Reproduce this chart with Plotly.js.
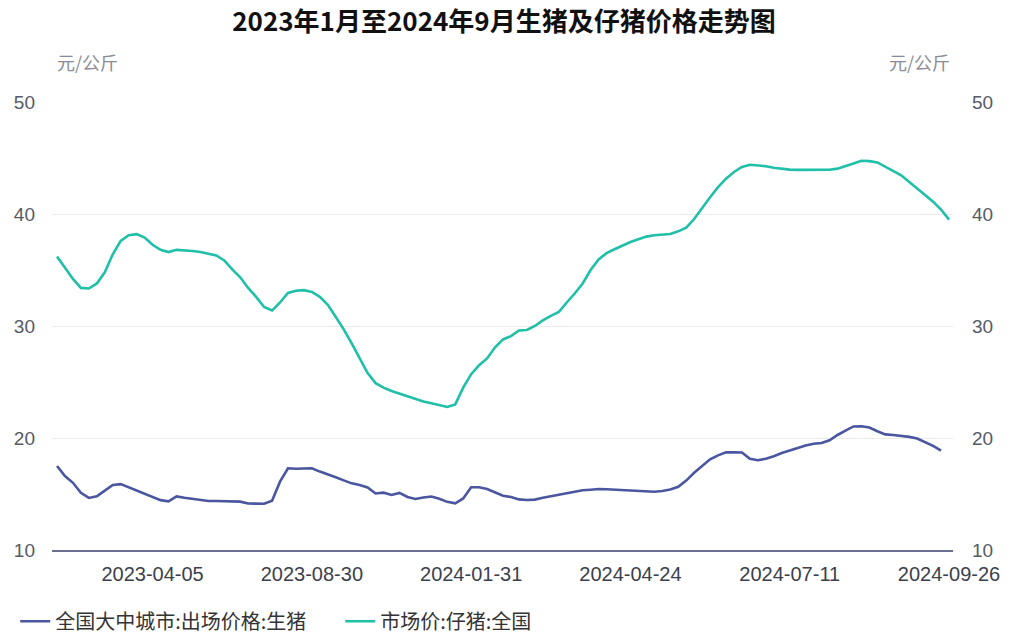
<!DOCTYPE html>
<html>
<head>
<meta charset="utf-8">
<script src="https://cdn.plot.ly/plotly-3.0.1.min.js"></script>
<style>html,body{margin:0;padding:0;background:#fff;}#chart{width:1014px;height:634px;}</style>
</head>
<body>
<div id="chart"></div>
<script>
const dates = [
 '2023-01-11','2023-01-18','2023-01-25','2023-02-01','2023-02-08','2023-02-15','2023-02-22','2023-03-01','2023-03-08','2023-03-15','2023-03-22','2023-03-29',
 '2023-04-05',
 '2023-04-12','2023-04-19','2023-04-26','2023-05-03','2023-05-10','2023-05-17','2023-05-24','2023-05-31','2023-06-07','2023-06-14','2023-06-21','2023-06-28','2023-07-05','2023-07-12','2023-07-19','2023-07-26','2023-08-02','2023-08-09','2023-08-16',
 '2023-08-30',
 '2023-09-06','2023-09-13','2023-09-20','2023-09-27','2023-10-11','2023-10-18','2023-10-25','2023-11-01','2023-11-08','2023-11-15','2023-11-22','2023-11-29','2023-12-06','2023-12-13','2023-12-20','2023-12-27','2024-01-03','2024-01-10','2024-01-17',
 '2024-01-31',
 '2024-02-04','2024-02-08','2024-02-12','2024-02-16','2024-02-20','2024-02-24','2024-02-28','2024-03-03','2024-03-07','2024-03-11','2024-03-15','2024-03-19','2024-03-23','2024-03-27','2024-03-31','2024-04-04','2024-04-08','2024-04-12','2024-04-18',
 '2024-04-24',
 '2024-04-28','2024-05-02','2024-05-06','2024-05-10','2024-05-14','2024-05-18','2024-05-22','2024-05-26','2024-05-30','2024-06-03','2024-06-07','2024-06-11','2024-06-15','2024-06-19','2024-06-23','2024-06-27','2024-07-01','2024-07-04','2024-07-07',
 '2024-07-11',
 '2024-07-15','2024-07-19','2024-07-23','2024-07-27','2024-07-31','2024-08-04','2024-08-08','2024-08-12','2024-08-16','2024-08-20','2024-08-24','2024-08-28','2024-09-01','2024-09-05','2024-09-09','2024-09-13','2024-09-17','2024-09-20','2024-09-23',
 '2024-09-26'
];

// 全国大中城市:出场价格:生猪 (元/公斤)
const hogPrice = [
 17.5,16.6,16.0,15.1,14.65,14.8,15.3,15.8,15.88,15.58,
 15.35,15.05,14.75,14.45,14.35,14.78,14.66,14.56,14.42,14.38,
 14.38,14.34,14.32,14.32,14.15,14.13,14.13,14.4,16.1,17.3,
 17.25,17.28,17.3,17.0,16.78,16.5,16.22,15.95,15.8,15.58,
 15.05,15.12,14.92,15.1,14.74,14.55,14.68,14.77,14.58,14.3,
 14.17,14.6,15.6,15.6,15.45,15.13,14.85,14.73,14.52,14.46,
 14.5,14.66,14.78,14.92,15.06,15.2,15.33,15.38,15.44,15.42,
 15.38,15.34,15.32,15.29,15.25,15.2,15.27,15.4,15.65,16.2,
 16.9,17.5,18.1,18.45,18.72,18.72,18.7,18.15,18.02,18.15,
 18.37,18.66,18.9,19.15,19.33,19.48,19.55,19.8,20.27,20.65,
 21.03,21.05,20.94,20.6,20.32,20.27,20.2,20.1,19.95,19.65,
 19.3,18.88,null
];

// 市场价:仔猪:全国 (元/公斤)
const pigletPrice = [
 36.2,35.15,34.2,33.4,33.35,33.8,34.8,36.4,37.6,38.1,
 38.2,37.9,37.25,36.8,36.6,36.8,36.77,36.7,36.6,36.45,
 36.3,35.85,35.05,34.35,33.4,32.6,31.7,31.38,32.1,32.95,
 33.15,33.2,33.04,32.6,31.9,30.8,29.7,28.45,27.1,25.8,
 24.9,24.5,24.2,23.95,23.68,23.45,23.25,23.1,22.93,22.77,
 23.0,24.5,25.7,26.5,27.1,28.1,28.8,29.1,29.6,29.64,
 30.0,30.5,30.9,31.25,32.1,32.9,33.8,35.0,35.95,36.5,
 36.85,37.2,37.5,37.75,37.98,38.1,38.17,38.22,38.45,38.78,
 39.55,40.55,41.5,42.4,43.15,43.75,44.2,44.4,44.36,44.27,
 44.13,44.03,43.96,43.94,43.93,43.93,43.94,43.95,44.05,44.26,
 44.5,44.75,44.72,44.6,44.2,43.8,43.45,42.85,42.3,41.7,
 41.1,40.4,39.5
];

const tickDates = ['2023-04-05','2023-08-30','2024-01-31','2024-04-24','2024-07-11','2024-09-26'];
const yTicks = [10,20,30,40,50];
const seriesNames = ['全国大中城市:出场价格:生猪','市场价:仔猪:全国'];
const titleText = '2023年1月至2024年9月生猪及仔猪价格走势图';
const unitText = '元/公斤';

const FONT = '"Liberation Sans", "Noto Sans CJK SC", sans-serif';
const CJK = '"Noto Sans CJK SC", sans-serif';

const traces = [
 {x: dates, y: hogPrice, name: seriesNames[0], type: 'scatter', mode: 'lines',
  line: {color: '#4a56a0', width: 2.6}, yaxis: 'y', connectgaps: false},
 {x: dates, y: pigletPrice, name: seriesNames[1], type: 'scatter', mode: 'lines',
  line: {color: '#1fbfa8', width: 2.6}, yaxis: 'y2'}
];

const layout = {
 width: 1014, height: 634,
 paper_bgcolor: '#ffffff', plot_bgcolor: '#ffffff',
 margin: {l: 52, r: 61, t: 102, b: 84},
 font: {family: FONT, color: '#333'},
 title: {text: '<b>' + titleText + '</b>', x: 0.497, xref: 'container', xanchor: 'center',
  y: 0.965, yref: 'container', yanchor: 'middle',
  font: {family: CJK, size: 26, color: '#111'}},
 xaxis: {type: 'category', range: [-0.63, 112.5], tickvals: tickDates, ticktext: tickDates,
  showgrid: false, zeroline: false, showline: true, linecolor: '#6c7090', linewidth: 2,
  ticks: '', ticklabelstandoff: 5, tickfont: {family: FONT, size: 20, color: '#3c3f4c'}},
 yaxis: {range: [10, 50], tickvals: yTicks, showgrid: true, gridcolor: '#ececec', gridwidth: 1,
  zeroline: false, showline: false, ticks: '', ticklabelstandoff: 16,
  tickfont: {family: FONT, size: 19, color: '#555a66'}},
 yaxis2: {range: [10, 50], tickvals: yTicks, overlaying: 'y', side: 'right', showgrid: false,
  zeroline: false, showline: false, ticks: '', ticklabelstandoff: 18,
  tickfont: {family: FONT, size: 19, color: '#555a66'}},
 showlegend: true,
 legend: {orientation: 'h', xref: 'container', x: 0.015, xanchor: 'left',
  yref: 'container', y: 0.02, yanchor: 'middle',
  font: {family: CJK, size: 20, color: '#333'},
  entrywidth: 280, entrywidthmode: 'pixels', itemwidth: 30, traceorder: 'normal'},
 annotations: [
  {text: unitText, xref: 'paper', yref: 'paper', x: 0.003, y: 1.089, xanchor: 'left', yanchor: 'middle',
   showarrow: false, font: {family: CJK, size: 18, color: '#8a8d96'}},
  {text: unitText, xref: 'paper', yref: 'paper', x: 0.999, y: 1.089, xanchor: 'right', yanchor: 'middle',
   showarrow: false, font: {family: CJK, size: 18, color: '#8a8d96'}}
 ]
};

Plotly.newPlot('chart', traces, layout, {displayModeBar: false, staticPlot: true});
</script>
</body>
</html>
